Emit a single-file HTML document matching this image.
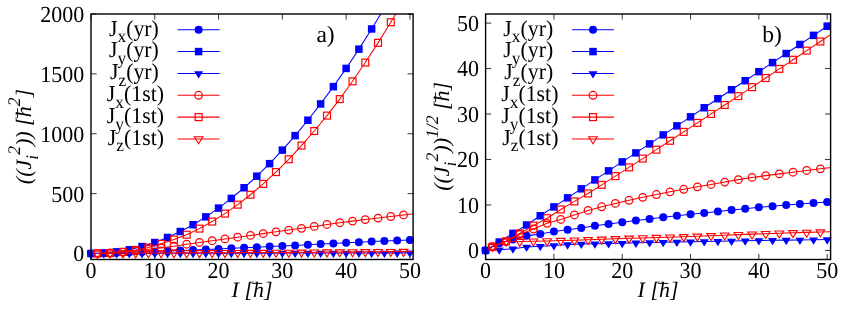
<!DOCTYPE html>
<html><head><meta charset="utf-8"><title>plot</title>
<style>html,body{margin:0;padding:0;background:#fff}svg{display:block;will-change:transform}text{font-family:"Liberation Serif",serif;fill:#000;text-rendering:geometricPrecision}</style>
</head><body>
<svg width="845" height="310" viewBox="0 0 845 310">
<rect width="845" height="310" fill="#fff"/>
<clipPath id="ca"><rect x="91" y="14" width="322.1" height="245.5"/></clipPath>
<path d="M91.00,259.5v-5.6M91.00,14v5.6" stroke="#000" stroke-width="0.8"/>
<text transform="translate(91.00,277.80) scale(0.9569,1)" text-anchor="middle" font-size="22.99">0</text>
<path d="M154.78,259.5v-5.6M154.78,14v5.6" stroke="#000" stroke-width="0.8"/>
<text transform="translate(154.78,277.80) scale(0.9569,1)" text-anchor="middle" font-size="22.99">10</text>
<path d="M218.56,259.5v-5.6M218.56,14v5.6" stroke="#000" stroke-width="0.8"/>
<text transform="translate(218.56,277.80) scale(0.9569,1)" text-anchor="middle" font-size="22.99">20</text>
<path d="M282.35,259.5v-5.6M282.35,14v5.6" stroke="#000" stroke-width="0.8"/>
<text transform="translate(282.35,277.80) scale(0.9569,1)" text-anchor="middle" font-size="22.99">30</text>
<path d="M346.13,259.5v-5.6M346.13,14v5.6" stroke="#000" stroke-width="0.8"/>
<text transform="translate(346.13,277.80) scale(0.9569,1)" text-anchor="middle" font-size="22.99">40</text>
<path d="M409.91,259.5v-5.6M409.91,14v5.6" stroke="#000" stroke-width="0.8"/>
<text transform="translate(409.91,277.80) scale(0.9569,1)" text-anchor="middle" font-size="22.99">50</text>
<path d="M91,253.51h5.6M413.1,253.51h-5.6" stroke="#000" stroke-width="0.8"/>
<text transform="translate(84.30,261.41) scale(0.9569,1)" text-anchor="end" font-size="22.99">0</text>
<path d="M91,193.63h5.6M413.1,193.63h-5.6" stroke="#000" stroke-width="0.8"/>
<text transform="translate(84.30,201.53) scale(0.9569,1)" text-anchor="end" font-size="22.99">500</text>
<path d="M91,133.76h5.6M413.1,133.76h-5.6" stroke="#000" stroke-width="0.8"/>
<text transform="translate(84.30,141.66) scale(0.9569,1)" text-anchor="end" font-size="22.99">1000</text>
<path d="M91,73.88h5.6M413.1,73.88h-5.6" stroke="#000" stroke-width="0.8"/>
<text transform="translate(84.30,81.78) scale(0.9569,1)" text-anchor="end" font-size="22.99">1500</text>
<path d="M91,14.00h5.6M413.1,14.00h-5.6" stroke="#000" stroke-width="0.8"/>
<text transform="translate(84.30,21.90) scale(0.9569,1)" text-anchor="end" font-size="22.99">2000</text>
<path d="M91.00,253.51L103.76,253.21L116.51,252.81L129.27,252.29L142.03,251.93L154.78,251.45L167.54,251.03L180.30,250.58L193.05,249.99L205.81,249.50L218.56,248.94L231.32,248.33L244.08,247.78L256.83,247.15L269.59,246.54L282.35,245.96L295.10,245.40L307.86,244.77L320.62,244.10L333.37,243.42L346.13,242.77L358.89,242.17L371.64,241.56L384.40,240.98L397.15,240.46L409.91,239.93L422.67,239.39" fill="none" stroke="#0000ff" stroke-width="1.05" clip-path="url(#ca)"/>
<circle cx="91.00" cy="253.51" r="4.0" fill="#0000ff"/>
<circle cx="103.76" cy="253.21" r="4.0" fill="#0000ff"/>
<circle cx="116.51" cy="252.81" r="4.0" fill="#0000ff"/>
<circle cx="129.27" cy="252.29" r="4.0" fill="#0000ff"/>
<circle cx="142.03" cy="251.93" r="4.0" fill="#0000ff"/>
<circle cx="154.78" cy="251.45" r="4.0" fill="#0000ff"/>
<circle cx="167.54" cy="251.03" r="4.0" fill="#0000ff"/>
<circle cx="180.30" cy="250.58" r="4.0" fill="#0000ff"/>
<circle cx="193.05" cy="249.99" r="4.0" fill="#0000ff"/>
<circle cx="205.81" cy="249.50" r="4.0" fill="#0000ff"/>
<circle cx="218.56" cy="248.94" r="4.0" fill="#0000ff"/>
<circle cx="231.32" cy="248.33" r="4.0" fill="#0000ff"/>
<circle cx="244.08" cy="247.78" r="4.0" fill="#0000ff"/>
<circle cx="256.83" cy="247.15" r="4.0" fill="#0000ff"/>
<circle cx="269.59" cy="246.54" r="4.0" fill="#0000ff"/>
<circle cx="282.35" cy="245.96" r="4.0" fill="#0000ff"/>
<circle cx="295.10" cy="245.40" r="4.0" fill="#0000ff"/>
<circle cx="307.86" cy="244.77" r="4.0" fill="#0000ff"/>
<circle cx="320.62" cy="244.10" r="4.0" fill="#0000ff"/>
<circle cx="333.37" cy="243.42" r="4.0" fill="#0000ff"/>
<circle cx="346.13" cy="242.77" r="4.0" fill="#0000ff"/>
<circle cx="358.89" cy="242.17" r="4.0" fill="#0000ff"/>
<circle cx="371.64" cy="241.56" r="4.0" fill="#0000ff"/>
<circle cx="384.40" cy="240.98" r="4.0" fill="#0000ff"/>
<circle cx="397.15" cy="240.46" r="4.0" fill="#0000ff"/>
<circle cx="409.91" cy="239.93" r="4.0" fill="#0000ff"/>
<path d="M91.00,253.51L103.76,253.10L116.51,251.83L129.27,249.78L142.03,246.57L154.78,242.55L167.54,237.51L180.30,231.53L193.05,224.72L205.81,216.85L218.56,208.09L231.32,198.43L244.08,187.75L256.83,176.19L269.59,163.65L282.35,150.12L295.10,135.62L307.86,120.23L320.62,103.93L333.37,86.67L346.13,68.42L358.89,49.16L371.64,28.96L384.40,7.77L397.15,-14.45L409.91,-37.60L422.67,-61.71" fill="none" stroke="#0000ff" stroke-width="1.05" clip-path="url(#ca)"/>
<rect x="87.25" y="249.76" width="7.5" height="7.5" fill="#0000ff"/>
<rect x="100.01" y="249.35" width="7.5" height="7.5" fill="#0000ff"/>
<rect x="112.76" y="248.08" width="7.5" height="7.5" fill="#0000ff"/>
<rect x="125.52" y="246.03" width="7.5" height="7.5" fill="#0000ff"/>
<rect x="138.28" y="242.82" width="7.5" height="7.5" fill="#0000ff"/>
<rect x="151.03" y="238.80" width="7.5" height="7.5" fill="#0000ff"/>
<rect x="163.79" y="233.76" width="7.5" height="7.5" fill="#0000ff"/>
<rect x="176.55" y="227.78" width="7.5" height="7.5" fill="#0000ff"/>
<rect x="189.30" y="220.97" width="7.5" height="7.5" fill="#0000ff"/>
<rect x="202.06" y="213.10" width="7.5" height="7.5" fill="#0000ff"/>
<rect x="214.81" y="204.34" width="7.5" height="7.5" fill="#0000ff"/>
<rect x="227.57" y="194.68" width="7.5" height="7.5" fill="#0000ff"/>
<rect x="240.33" y="184.00" width="7.5" height="7.5" fill="#0000ff"/>
<rect x="253.08" y="172.44" width="7.5" height="7.5" fill="#0000ff"/>
<rect x="265.84" y="159.90" width="7.5" height="7.5" fill="#0000ff"/>
<rect x="278.60" y="146.37" width="7.5" height="7.5" fill="#0000ff"/>
<rect x="291.35" y="131.87" width="7.5" height="7.5" fill="#0000ff"/>
<rect x="304.11" y="116.48" width="7.5" height="7.5" fill="#0000ff"/>
<rect x="316.87" y="100.18" width="7.5" height="7.5" fill="#0000ff"/>
<rect x="329.62" y="82.92" width="7.5" height="7.5" fill="#0000ff"/>
<rect x="342.38" y="64.67" width="7.5" height="7.5" fill="#0000ff"/>
<rect x="355.14" y="45.41" width="7.5" height="7.5" fill="#0000ff"/>
<rect x="367.89" y="25.21" width="7.5" height="7.5" fill="#0000ff"/>
<path d="M91.00,253.51L103.76,253.51L116.51,253.50L129.27,253.44L142.03,253.41L154.78,253.37L167.54,253.32L180.30,253.28L193.05,253.25L205.81,253.23L218.56,253.21L231.32,253.18L244.08,253.16L256.83,253.13L269.59,253.11L282.35,253.08L295.10,253.05L307.86,253.02L320.62,253.00L333.37,252.97L346.13,252.94L358.89,252.92L371.64,252.90L384.40,252.88L397.15,252.86L409.91,252.83L422.67,252.81" fill="none" stroke="#0000ff" stroke-width="1.05" clip-path="url(#ca)"/>
<polygon points="86.50,251.26 95.50,251.26 91.00,258.55" fill="#0000ff"/>
<polygon points="99.26,251.26 108.26,251.26 103.76,258.55" fill="#0000ff"/>
<polygon points="112.01,251.25 121.01,251.25 116.51,258.54" fill="#0000ff"/>
<polygon points="124.77,251.19 133.77,251.19 129.27,258.48" fill="#0000ff"/>
<polygon points="137.53,251.16 146.53,251.16 142.03,258.45" fill="#0000ff"/>
<polygon points="150.28,251.12 159.28,251.12 154.78,258.41" fill="#0000ff"/>
<polygon points="163.04,251.07 172.04,251.07 167.54,258.36" fill="#0000ff"/>
<polygon points="175.80,251.03 184.80,251.03 180.30,258.32" fill="#0000ff"/>
<polygon points="188.55,251.00 197.55,251.00 193.05,258.29" fill="#0000ff"/>
<polygon points="201.31,250.98 210.31,250.98 205.81,258.27" fill="#0000ff"/>
<polygon points="214.06,250.96 223.06,250.96 218.56,258.25" fill="#0000ff"/>
<polygon points="226.82,250.93 235.82,250.93 231.32,258.22" fill="#0000ff"/>
<polygon points="239.58,250.91 248.58,250.91 244.08,258.20" fill="#0000ff"/>
<polygon points="252.33,250.88 261.33,250.88 256.83,258.17" fill="#0000ff"/>
<polygon points="265.09,250.86 274.09,250.86 269.59,258.15" fill="#0000ff"/>
<polygon points="277.85,250.83 286.85,250.83 282.35,258.12" fill="#0000ff"/>
<polygon points="290.60,250.80 299.60,250.80 295.10,258.09" fill="#0000ff"/>
<polygon points="303.36,250.77 312.36,250.77 307.86,258.06" fill="#0000ff"/>
<polygon points="316.12,250.75 325.12,250.75 320.62,258.04" fill="#0000ff"/>
<polygon points="328.87,250.72 337.87,250.72 333.37,258.01" fill="#0000ff"/>
<polygon points="341.63,250.69 350.63,250.69 346.13,257.98" fill="#0000ff"/>
<polygon points="354.39,250.67 363.39,250.67 358.89,257.96" fill="#0000ff"/>
<polygon points="367.14,250.65 376.14,250.65 371.64,257.94" fill="#0000ff"/>
<polygon points="379.90,250.63 388.90,250.63 384.40,257.92" fill="#0000ff"/>
<polygon points="392.65,250.61 401.65,250.61 397.15,257.90" fill="#0000ff"/>
<polygon points="405.41,250.58 414.41,250.58 409.91,257.87" fill="#0000ff"/>
<path d="M97.38,253.43L110.13,253.03L122.89,252.05L135.65,250.87L148.40,249.27L161.16,247.97L173.92,246.23L186.67,244.24L199.43,242.48L212.19,240.73L224.94,238.94L237.70,237.17L250.46,235.42L263.21,233.64L275.97,231.85L288.72,230.10L301.48,228.33L314.24,226.44L326.99,224.49L339.75,222.66L352.51,221.11L365.26,219.59L378.02,218.08L390.78,216.50L403.53,214.93L416.29,213.41" fill="none" stroke="#ff0000" stroke-width="1.05" clip-path="url(#ca)"/>
<circle cx="97.38" cy="253.43" r="3.8" fill="none" stroke="#ff0000" stroke-width="1.25"/>
<circle cx="110.13" cy="253.03" r="3.8" fill="none" stroke="#ff0000" stroke-width="1.25"/>
<circle cx="122.89" cy="252.05" r="3.8" fill="none" stroke="#ff0000" stroke-width="1.25"/>
<circle cx="135.65" cy="250.87" r="3.8" fill="none" stroke="#ff0000" stroke-width="1.25"/>
<circle cx="148.40" cy="249.27" r="3.8" fill="none" stroke="#ff0000" stroke-width="1.25"/>
<circle cx="161.16" cy="247.97" r="3.8" fill="none" stroke="#ff0000" stroke-width="1.25"/>
<circle cx="173.92" cy="246.23" r="3.8" fill="none" stroke="#ff0000" stroke-width="1.25"/>
<circle cx="186.67" cy="244.24" r="3.8" fill="none" stroke="#ff0000" stroke-width="1.25"/>
<circle cx="199.43" cy="242.48" r="3.8" fill="none" stroke="#ff0000" stroke-width="1.25"/>
<circle cx="212.19" cy="240.73" r="3.8" fill="none" stroke="#ff0000" stroke-width="1.25"/>
<circle cx="224.94" cy="238.94" r="3.8" fill="none" stroke="#ff0000" stroke-width="1.25"/>
<circle cx="237.70" cy="237.17" r="3.8" fill="none" stroke="#ff0000" stroke-width="1.25"/>
<circle cx="250.46" cy="235.42" r="3.8" fill="none" stroke="#ff0000" stroke-width="1.25"/>
<circle cx="263.21" cy="233.64" r="3.8" fill="none" stroke="#ff0000" stroke-width="1.25"/>
<circle cx="275.97" cy="231.85" r="3.8" fill="none" stroke="#ff0000" stroke-width="1.25"/>
<circle cx="288.72" cy="230.10" r="3.8" fill="none" stroke="#ff0000" stroke-width="1.25"/>
<circle cx="301.48" cy="228.33" r="3.8" fill="none" stroke="#ff0000" stroke-width="1.25"/>
<circle cx="314.24" cy="226.44" r="3.8" fill="none" stroke="#ff0000" stroke-width="1.25"/>
<circle cx="326.99" cy="224.49" r="3.8" fill="none" stroke="#ff0000" stroke-width="1.25"/>
<circle cx="339.75" cy="222.66" r="3.8" fill="none" stroke="#ff0000" stroke-width="1.25"/>
<circle cx="352.51" cy="221.11" r="3.8" fill="none" stroke="#ff0000" stroke-width="1.25"/>
<circle cx="365.26" cy="219.59" r="3.8" fill="none" stroke="#ff0000" stroke-width="1.25"/>
<circle cx="378.02" cy="218.08" r="3.8" fill="none" stroke="#ff0000" stroke-width="1.25"/>
<circle cx="390.78" cy="216.50" r="3.8" fill="none" stroke="#ff0000" stroke-width="1.25"/>
<circle cx="403.53" cy="214.93" r="3.8" fill="none" stroke="#ff0000" stroke-width="1.25"/>
<path d="M97.38,253.43L110.13,253.03L122.89,251.84L135.65,249.94L148.40,247.50L161.16,243.80L173.92,239.61L186.67,234.70L199.43,228.62L212.19,221.57L224.94,213.60L237.70,204.65L250.46,194.72L263.21,183.86L275.97,172.07L288.72,159.28L301.48,145.57L314.24,131.03L326.99,115.60L339.75,99.08L352.51,81.32L365.26,62.57L378.02,42.84L390.78,22.24L403.53,0.66L416.29,-21.93" fill="none" stroke="#ff0000" stroke-width="1.05" clip-path="url(#ca)"/>
<rect x="93.93" y="249.98" width="6.9" height="6.9" fill="none" stroke="#ff0000" stroke-width="1.2"/>
<rect x="106.68" y="249.58" width="6.9" height="6.9" fill="none" stroke="#ff0000" stroke-width="1.2"/>
<rect x="119.44" y="248.39" width="6.9" height="6.9" fill="none" stroke="#ff0000" stroke-width="1.2"/>
<rect x="132.20" y="246.49" width="6.9" height="6.9" fill="none" stroke="#ff0000" stroke-width="1.2"/>
<rect x="144.95" y="244.05" width="6.9" height="6.9" fill="none" stroke="#ff0000" stroke-width="1.2"/>
<rect x="157.71" y="240.35" width="6.9" height="6.9" fill="none" stroke="#ff0000" stroke-width="1.2"/>
<rect x="170.47" y="236.16" width="6.9" height="6.9" fill="none" stroke="#ff0000" stroke-width="1.2"/>
<rect x="183.22" y="231.25" width="6.9" height="6.9" fill="none" stroke="#ff0000" stroke-width="1.2"/>
<rect x="195.98" y="225.17" width="6.9" height="6.9" fill="none" stroke="#ff0000" stroke-width="1.2"/>
<rect x="208.74" y="218.12" width="6.9" height="6.9" fill="none" stroke="#ff0000" stroke-width="1.2"/>
<rect x="221.49" y="210.15" width="6.9" height="6.9" fill="none" stroke="#ff0000" stroke-width="1.2"/>
<rect x="234.25" y="201.20" width="6.9" height="6.9" fill="none" stroke="#ff0000" stroke-width="1.2"/>
<rect x="247.01" y="191.27" width="6.9" height="6.9" fill="none" stroke="#ff0000" stroke-width="1.2"/>
<rect x="259.76" y="180.41" width="6.9" height="6.9" fill="none" stroke="#ff0000" stroke-width="1.2"/>
<rect x="272.52" y="168.62" width="6.9" height="6.9" fill="none" stroke="#ff0000" stroke-width="1.2"/>
<rect x="285.27" y="155.83" width="6.9" height="6.9" fill="none" stroke="#ff0000" stroke-width="1.2"/>
<rect x="298.03" y="142.12" width="6.9" height="6.9" fill="none" stroke="#ff0000" stroke-width="1.2"/>
<rect x="310.79" y="127.58" width="6.9" height="6.9" fill="none" stroke="#ff0000" stroke-width="1.2"/>
<rect x="323.54" y="112.15" width="6.9" height="6.9" fill="none" stroke="#ff0000" stroke-width="1.2"/>
<rect x="336.30" y="95.63" width="6.9" height="6.9" fill="none" stroke="#ff0000" stroke-width="1.2"/>
<rect x="349.06" y="77.87" width="6.9" height="6.9" fill="none" stroke="#ff0000" stroke-width="1.2"/>
<rect x="361.81" y="59.12" width="6.9" height="6.9" fill="none" stroke="#ff0000" stroke-width="1.2"/>
<rect x="374.57" y="39.39" width="6.9" height="6.9" fill="none" stroke="#ff0000" stroke-width="1.2"/>
<rect x="387.33" y="18.79" width="6.9" height="6.9" fill="none" stroke="#ff0000" stroke-width="1.2"/>
<path d="M97.38,253.43L110.13,253.03L122.89,253.06L135.65,253.02L148.40,252.99L161.16,252.95L173.92,252.91L186.67,252.85L199.43,252.79L212.19,252.73L224.94,252.66L237.70,252.61L250.46,252.55L263.21,252.50L275.97,252.43L288.72,252.36L301.48,252.27L314.24,252.17L326.99,252.07L339.75,251.98L352.51,251.89L365.26,251.80L378.02,251.72L390.78,251.63L403.53,251.55L416.29,251.47" fill="none" stroke="#ff0000" stroke-width="1.05" clip-path="url(#ca)"/>
<polygon points="93.08,251.28 101.68,251.28 97.38,258.25" fill="none" stroke="#ff0000" stroke-width="1.1"/>
<polygon points="105.83,250.88 114.43,250.88 110.13,257.85" fill="none" stroke="#ff0000" stroke-width="1.1"/>
<polygon points="118.59,250.91 127.19,250.91 122.89,257.87" fill="none" stroke="#ff0000" stroke-width="1.1"/>
<polygon points="131.35,250.87 139.95,250.87 135.65,257.83" fill="none" stroke="#ff0000" stroke-width="1.1"/>
<polygon points="144.10,250.84 152.70,250.84 148.40,257.81" fill="none" stroke="#ff0000" stroke-width="1.1"/>
<polygon points="156.86,250.80 165.46,250.80 161.16,257.77" fill="none" stroke="#ff0000" stroke-width="1.1"/>
<polygon points="169.62,250.76 178.22,250.76 173.92,257.72" fill="none" stroke="#ff0000" stroke-width="1.1"/>
<polygon points="182.37,250.70 190.97,250.70 186.67,257.67" fill="none" stroke="#ff0000" stroke-width="1.1"/>
<polygon points="195.13,250.64 203.73,250.64 199.43,257.61" fill="none" stroke="#ff0000" stroke-width="1.1"/>
<polygon points="207.89,250.58 216.49,250.58 212.19,257.55" fill="none" stroke="#ff0000" stroke-width="1.1"/>
<polygon points="220.64,250.51 229.24,250.51 224.94,257.48" fill="none" stroke="#ff0000" stroke-width="1.1"/>
<polygon points="233.40,250.46 242.00,250.46 237.70,257.42" fill="none" stroke="#ff0000" stroke-width="1.1"/>
<polygon points="246.16,250.40 254.76,250.40 250.46,257.37" fill="none" stroke="#ff0000" stroke-width="1.1"/>
<polygon points="258.91,250.35 267.51,250.35 263.21,257.31" fill="none" stroke="#ff0000" stroke-width="1.1"/>
<polygon points="271.67,250.28 280.27,250.28 275.97,257.25" fill="none" stroke="#ff0000" stroke-width="1.1"/>
<polygon points="284.42,250.21 293.02,250.21 288.72,257.17" fill="none" stroke="#ff0000" stroke-width="1.1"/>
<polygon points="297.18,250.12 305.78,250.12 301.48,257.08" fill="none" stroke="#ff0000" stroke-width="1.1"/>
<polygon points="309.94,250.02 318.54,250.02 314.24,256.99" fill="none" stroke="#ff0000" stroke-width="1.1"/>
<polygon points="322.69,249.92 331.29,249.92 326.99,256.89" fill="none" stroke="#ff0000" stroke-width="1.1"/>
<polygon points="335.45,249.83 344.05,249.83 339.75,256.79" fill="none" stroke="#ff0000" stroke-width="1.1"/>
<polygon points="348.21,249.74 356.81,249.74 352.51,256.70" fill="none" stroke="#ff0000" stroke-width="1.1"/>
<polygon points="360.96,249.65 369.56,249.65 365.26,256.62" fill="none" stroke="#ff0000" stroke-width="1.1"/>
<polygon points="373.72,249.57 382.32,249.57 378.02,256.53" fill="none" stroke="#ff0000" stroke-width="1.1"/>
<polygon points="386.48,249.48 395.08,249.48 390.78,256.45" fill="none" stroke="#ff0000" stroke-width="1.1"/>
<polygon points="399.23,249.40 407.83,249.40 403.53,256.36" fill="none" stroke="#ff0000" stroke-width="1.1"/>
<path d="M177.6,29.75H219.6" stroke="#0000ff" stroke-width="1.05"/>
<circle cx="198.60" cy="29.75" r="4.0" fill="#0000ff"/>
<text transform="translate(158.80,35.55) scale(0.9569,1)" text-anchor="end" font-size="22.78">J<tspan font-size="18.18" dy="6.6">x</tspan><tspan dy="-6.6">(yr)</tspan></text>
<path d="M177.6,51.59H219.6" stroke="#0000ff" stroke-width="1.05"/>
<rect x="194.85" y="47.84" width="7.5" height="7.5" fill="#0000ff"/>
<text transform="translate(158.80,57.39) scale(0.9569,1)" text-anchor="end" font-size="22.78">J<tspan font-size="18.18" dy="6.6">y</tspan><tspan dy="-6.6">(yr)</tspan></text>
<path d="M177.6,73.43H219.6" stroke="#0000ff" stroke-width="1.05"/>
<polygon points="194.10,71.18 203.10,71.18 198.60,78.47" fill="#0000ff"/>
<text transform="translate(158.80,79.23) scale(0.9569,1)" text-anchor="end" font-size="22.78">J<tspan font-size="18.18" dy="6.6">z</tspan><tspan dy="-6.6">(yr)</tspan></text>
<path d="M177.6,95.27H219.6" stroke="#ff0000" stroke-width="1.05"/>
<circle cx="198.60" cy="95.27" r="3.8" fill="none" stroke="#ff0000" stroke-width="1.25"/>
<text transform="translate(164.00,101.07) scale(0.9569,1)" text-anchor="end" font-size="22.78">J<tspan font-size="18.18" dy="6.6">x</tspan><tspan dy="-6.6">(1st)</tspan></text>
<path d="M177.6,117.11H219.6" stroke="#ff0000" stroke-width="1.05"/>
<rect x="195.15" y="113.66" width="6.9" height="6.9" fill="none" stroke="#ff0000" stroke-width="1.2"/>
<text transform="translate(164.00,122.91) scale(0.9569,1)" text-anchor="end" font-size="22.78">J<tspan font-size="18.18" dy="6.6">y</tspan><tspan dy="-6.6">(1st)</tspan></text>
<path d="M177.6,138.95H219.6" stroke="#ff0000" stroke-width="1.05"/>
<polygon points="194.30,136.80 202.90,136.80 198.60,143.77" fill="none" stroke="#ff0000" stroke-width="1.1"/>
<text transform="translate(164.00,144.75) scale(0.9569,1)" text-anchor="end" font-size="22.78">J<tspan font-size="18.18" dy="6.6">z</tspan><tspan dy="-6.6">(1st)</tspan></text>
<rect x="91" y="14" width="322.1" height="245.5" fill="none" stroke="#000" stroke-width="1.4"/>
<text x="316.4" y="41.5" font-size="23.6">a)</text>
<text x="252.05" y="297.1" text-anchor="middle" font-size="22" font-style="italic">I [h]</text>
<rect x="252.30" y="282.95" width="10" height="0.9" fill="#000"/>
<clipPath id="cb"><rect x="485.6" y="14" width="345.0" height="245.5"/></clipPath>
<path d="M485.60,259.5v-5.6M485.60,14v5.6" stroke="#000" stroke-width="0.8"/>
<text transform="translate(485.60,277.80) scale(0.9569,1)" text-anchor="middle" font-size="22.99">0</text>
<path d="M553.92,259.5v-5.6M553.92,14v5.6" stroke="#000" stroke-width="0.8"/>
<text transform="translate(553.92,277.80) scale(0.9569,1)" text-anchor="middle" font-size="22.99">10</text>
<path d="M622.23,259.5v-5.6M622.23,14v5.6" stroke="#000" stroke-width="0.8"/>
<text transform="translate(622.23,277.80) scale(0.9569,1)" text-anchor="middle" font-size="22.99">20</text>
<path d="M690.55,259.5v-5.6M690.55,14v5.6" stroke="#000" stroke-width="0.8"/>
<text transform="translate(690.55,277.80) scale(0.9569,1)" text-anchor="middle" font-size="22.99">30</text>
<path d="M758.87,259.5v-5.6M758.87,14v5.6" stroke="#000" stroke-width="0.8"/>
<text transform="translate(758.87,277.80) scale(0.9569,1)" text-anchor="middle" font-size="22.99">40</text>
<path d="M827.18,259.5v-5.6M827.18,14v5.6" stroke="#000" stroke-width="0.8"/>
<text transform="translate(827.18,277.80) scale(0.9569,1)" text-anchor="middle" font-size="22.99">50</text>
<path d="M485.6,250.41h5.6M830.6,250.41h-5.6" stroke="#000" stroke-width="0.8"/>
<text transform="translate(478.90,258.31) scale(0.9569,1)" text-anchor="end" font-size="22.99">0</text>
<path d="M485.6,204.94h5.6M830.6,204.94h-5.6" stroke="#000" stroke-width="0.8"/>
<text transform="translate(478.90,212.84) scale(0.9569,1)" text-anchor="end" font-size="22.99">10</text>
<path d="M485.6,159.48h5.6M830.6,159.48h-5.6" stroke="#000" stroke-width="0.8"/>
<text transform="translate(478.90,167.38) scale(0.9569,1)" text-anchor="end" font-size="22.99">20</text>
<path d="M485.6,114.02h5.6M830.6,114.02h-5.6" stroke="#000" stroke-width="0.8"/>
<text transform="translate(478.90,121.92) scale(0.9569,1)" text-anchor="end" font-size="22.99">30</text>
<path d="M485.6,68.56h5.6M830.6,68.56h-5.6" stroke="#000" stroke-width="0.8"/>
<text transform="translate(478.90,76.46) scale(0.9569,1)" text-anchor="end" font-size="22.99">40</text>
<path d="M485.6,23.09h5.6M830.6,23.09h-5.6" stroke="#000" stroke-width="0.8"/>
<text transform="translate(478.90,30.99) scale(0.9569,1)" text-anchor="end" font-size="22.99">50</text>
<path d="M485.60,250.41L499.26,243.13L512.93,239.41L526.59,235.86L540.25,233.90L553.92,231.54L567.58,229.72L581.24,227.90L594.91,225.77L608.57,224.08L622.23,222.31L635.90,220.49L649.56,218.95L663.22,217.26L676.89,215.72L690.55,214.31L704.21,212.99L717.88,211.57L731.54,210.10L745.20,208.67L758.87,207.35L772.53,206.17L786.19,204.99L799.86,203.90L813.52,202.94L827.18,201.99L840.85,201.03" fill="none" stroke="#0000ff" stroke-width="1.05" clip-path="url(#cb)"/>
<circle cx="485.60" cy="250.41" r="4.0" fill="#0000ff"/>
<circle cx="499.26" cy="243.13" r="4.0" fill="#0000ff"/>
<circle cx="512.93" cy="239.41" r="4.0" fill="#0000ff"/>
<circle cx="526.59" cy="235.86" r="4.0" fill="#0000ff"/>
<circle cx="540.25" cy="233.90" r="4.0" fill="#0000ff"/>
<circle cx="553.92" cy="231.54" r="4.0" fill="#0000ff"/>
<circle cx="567.58" cy="229.72" r="4.0" fill="#0000ff"/>
<circle cx="581.24" cy="227.90" r="4.0" fill="#0000ff"/>
<circle cx="594.91" cy="225.77" r="4.0" fill="#0000ff"/>
<circle cx="608.57" cy="224.08" r="4.0" fill="#0000ff"/>
<circle cx="622.23" cy="222.31" r="4.0" fill="#0000ff"/>
<circle cx="635.90" cy="220.49" r="4.0" fill="#0000ff"/>
<circle cx="649.56" cy="218.95" r="4.0" fill="#0000ff"/>
<circle cx="663.22" cy="217.26" r="4.0" fill="#0000ff"/>
<circle cx="676.89" cy="215.72" r="4.0" fill="#0000ff"/>
<circle cx="690.55" cy="214.31" r="4.0" fill="#0000ff"/>
<circle cx="704.21" cy="212.99" r="4.0" fill="#0000ff"/>
<circle cx="717.88" cy="211.57" r="4.0" fill="#0000ff"/>
<circle cx="731.54" cy="210.10" r="4.0" fill="#0000ff"/>
<circle cx="745.20" cy="208.67" r="4.0" fill="#0000ff"/>
<circle cx="758.87" cy="207.35" r="4.0" fill="#0000ff"/>
<circle cx="772.53" cy="206.17" r="4.0" fill="#0000ff"/>
<circle cx="786.19" cy="204.99" r="4.0" fill="#0000ff"/>
<circle cx="799.86" cy="203.90" r="4.0" fill="#0000ff"/>
<circle cx="813.52" cy="202.94" r="4.0" fill="#0000ff"/>
<circle cx="827.18" cy="201.99" r="4.0" fill="#0000ff"/>
<path d="M485.60,250.41L499.26,242.00L512.93,233.38L526.59,225.01L540.25,215.80L553.92,206.90L567.58,197.85L581.24,188.82L594.91,179.91L608.57,170.87L622.23,161.87L635.90,152.91L649.56,143.87L663.22,134.89L676.89,125.87L690.55,116.82L704.21,107.76L717.88,98.74L731.54,89.73L745.20,80.71L758.87,71.68L772.53,62.61L786.19,53.54L799.86,44.46L813.52,35.36L827.18,26.26L840.85,17.16" fill="none" stroke="#0000ff" stroke-width="1.05" clip-path="url(#cb)"/>
<rect x="481.85" y="246.66" width="7.5" height="7.5" fill="#0000ff"/>
<rect x="495.51" y="238.25" width="7.5" height="7.5" fill="#0000ff"/>
<rect x="509.18" y="229.63" width="7.5" height="7.5" fill="#0000ff"/>
<rect x="522.84" y="221.26" width="7.5" height="7.5" fill="#0000ff"/>
<rect x="536.50" y="212.05" width="7.5" height="7.5" fill="#0000ff"/>
<rect x="550.17" y="203.15" width="7.5" height="7.5" fill="#0000ff"/>
<rect x="563.83" y="194.10" width="7.5" height="7.5" fill="#0000ff"/>
<rect x="577.49" y="185.07" width="7.5" height="7.5" fill="#0000ff"/>
<rect x="591.16" y="176.16" width="7.5" height="7.5" fill="#0000ff"/>
<rect x="604.82" y="167.12" width="7.5" height="7.5" fill="#0000ff"/>
<rect x="618.48" y="158.12" width="7.5" height="7.5" fill="#0000ff"/>
<rect x="632.15" y="149.16" width="7.5" height="7.5" fill="#0000ff"/>
<rect x="645.81" y="140.12" width="7.5" height="7.5" fill="#0000ff"/>
<rect x="659.47" y="131.14" width="7.5" height="7.5" fill="#0000ff"/>
<rect x="673.14" y="122.12" width="7.5" height="7.5" fill="#0000ff"/>
<rect x="686.80" y="113.07" width="7.5" height="7.5" fill="#0000ff"/>
<rect x="700.46" y="104.01" width="7.5" height="7.5" fill="#0000ff"/>
<rect x="714.13" y="94.99" width="7.5" height="7.5" fill="#0000ff"/>
<rect x="727.79" y="85.98" width="7.5" height="7.5" fill="#0000ff"/>
<rect x="741.45" y="76.96" width="7.5" height="7.5" fill="#0000ff"/>
<rect x="755.12" y="67.93" width="7.5" height="7.5" fill="#0000ff"/>
<rect x="768.78" y="58.86" width="7.5" height="7.5" fill="#0000ff"/>
<rect x="782.44" y="49.79" width="7.5" height="7.5" fill="#0000ff"/>
<rect x="796.11" y="40.71" width="7.5" height="7.5" fill="#0000ff"/>
<rect x="809.77" y="31.61" width="7.5" height="7.5" fill="#0000ff"/>
<rect x="823.43" y="22.51" width="7.5" height="7.5" fill="#0000ff"/>
<path d="M485.60,250.41L499.26,249.73L512.93,248.82L526.59,247.00L540.25,246.18L553.92,245.41L567.58,244.59L581.24,244.04L594.91,243.69L608.57,243.41L622.23,243.13L635.90,242.85L649.56,242.57L663.22,242.30L676.89,242.03L690.55,241.77L704.21,241.50L717.88,241.23L731.54,240.97L745.20,240.72L758.87,240.50L772.53,240.30L786.19,240.11L799.86,239.94L813.52,239.76L827.18,239.59L840.85,239.41" fill="none" stroke="#0000ff" stroke-width="1.05" clip-path="url(#cb)"/>
<polygon points="481.10,248.16 490.10,248.16 485.60,255.45" fill="#0000ff"/>
<polygon points="494.76,247.48 503.76,247.48 499.26,254.77" fill="#0000ff"/>
<polygon points="508.43,246.57 517.43,246.57 512.93,253.86" fill="#0000ff"/>
<polygon points="522.09,244.75 531.09,244.75 526.59,252.04" fill="#0000ff"/>
<polygon points="535.75,243.93 544.75,243.93 540.25,251.22" fill="#0000ff"/>
<polygon points="549.42,243.16 558.42,243.16 553.92,250.45" fill="#0000ff"/>
<polygon points="563.08,242.34 572.08,242.34 567.58,249.63" fill="#0000ff"/>
<polygon points="576.74,241.79 585.74,241.79 581.24,249.08" fill="#0000ff"/>
<polygon points="590.41,241.44 599.41,241.44 594.91,248.73" fill="#0000ff"/>
<polygon points="604.07,241.16 613.07,241.16 608.57,248.45" fill="#0000ff"/>
<polygon points="617.73,240.88 626.73,240.88 622.23,248.17" fill="#0000ff"/>
<polygon points="631.40,240.60 640.40,240.60 635.90,247.89" fill="#0000ff"/>
<polygon points="645.06,240.32 654.06,240.32 649.56,247.61" fill="#0000ff"/>
<polygon points="658.72,240.05 667.72,240.05 663.22,247.34" fill="#0000ff"/>
<polygon points="672.39,239.78 681.39,239.78 676.89,247.07" fill="#0000ff"/>
<polygon points="686.05,239.52 695.05,239.52 690.55,246.81" fill="#0000ff"/>
<polygon points="699.71,239.25 708.71,239.25 704.21,246.54" fill="#0000ff"/>
<polygon points="713.38,238.98 722.38,238.98 717.88,246.27" fill="#0000ff"/>
<polygon points="727.04,238.72 736.04,238.72 731.54,246.01" fill="#0000ff"/>
<polygon points="740.70,238.47 749.70,238.47 745.20,245.76" fill="#0000ff"/>
<polygon points="754.37,238.25 763.37,238.25 758.87,245.54" fill="#0000ff"/>
<polygon points="768.03,238.05 777.03,238.05 772.53,245.34" fill="#0000ff"/>
<polygon points="781.69,237.86 790.69,237.86 786.19,245.15" fill="#0000ff"/>
<polygon points="795.36,237.69 804.36,237.69 799.86,244.98" fill="#0000ff"/>
<polygon points="809.02,237.51 818.02,237.51 813.52,244.80" fill="#0000ff"/>
<polygon points="822.68,237.34 831.68,237.34 827.18,244.63" fill="#0000ff"/>
<path d="M492.43,246.68L506.10,241.31L519.76,234.50L533.42,229.04L547.09,223.36L560.75,219.49L574.41,214.95L588.08,210.40L601.74,206.76L615.40,203.44L629.07,200.26L642.73,197.31L656.39,194.53L670.06,191.85L683.72,189.26L697.38,186.84L711.05,184.49L724.71,182.05L738.37,179.63L752.04,177.44L765.70,175.62L779.36,173.89L793.03,172.21L806.69,170.48L820.35,168.80L834.02,167.21" fill="none" stroke="#ff0000" stroke-width="1.05" clip-path="url(#cb)"/>
<circle cx="492.43" cy="246.68" r="3.8" fill="none" stroke="#ff0000" stroke-width="1.25"/>
<circle cx="506.10" cy="241.31" r="3.8" fill="none" stroke="#ff0000" stroke-width="1.25"/>
<circle cx="519.76" cy="234.50" r="3.8" fill="none" stroke="#ff0000" stroke-width="1.25"/>
<circle cx="533.42" cy="229.04" r="3.8" fill="none" stroke="#ff0000" stroke-width="1.25"/>
<circle cx="547.09" cy="223.36" r="3.8" fill="none" stroke="#ff0000" stroke-width="1.25"/>
<circle cx="560.75" cy="219.49" r="3.8" fill="none" stroke="#ff0000" stroke-width="1.25"/>
<circle cx="574.41" cy="214.95" r="3.8" fill="none" stroke="#ff0000" stroke-width="1.25"/>
<circle cx="588.08" cy="210.40" r="3.8" fill="none" stroke="#ff0000" stroke-width="1.25"/>
<circle cx="601.74" cy="206.76" r="3.8" fill="none" stroke="#ff0000" stroke-width="1.25"/>
<circle cx="615.40" cy="203.44" r="3.8" fill="none" stroke="#ff0000" stroke-width="1.25"/>
<circle cx="629.07" cy="200.26" r="3.8" fill="none" stroke="#ff0000" stroke-width="1.25"/>
<circle cx="642.73" cy="197.31" r="3.8" fill="none" stroke="#ff0000" stroke-width="1.25"/>
<circle cx="656.39" cy="194.53" r="3.8" fill="none" stroke="#ff0000" stroke-width="1.25"/>
<circle cx="670.06" cy="191.85" r="3.8" fill="none" stroke="#ff0000" stroke-width="1.25"/>
<circle cx="683.72" cy="189.26" r="3.8" fill="none" stroke="#ff0000" stroke-width="1.25"/>
<circle cx="697.38" cy="186.84" r="3.8" fill="none" stroke="#ff0000" stroke-width="1.25"/>
<circle cx="711.05" cy="184.49" r="3.8" fill="none" stroke="#ff0000" stroke-width="1.25"/>
<circle cx="724.71" cy="182.05" r="3.8" fill="none" stroke="#ff0000" stroke-width="1.25"/>
<circle cx="738.37" cy="179.63" r="3.8" fill="none" stroke="#ff0000" stroke-width="1.25"/>
<circle cx="752.04" cy="177.44" r="3.8" fill="none" stroke="#ff0000" stroke-width="1.25"/>
<circle cx="765.70" cy="175.62" r="3.8" fill="none" stroke="#ff0000" stroke-width="1.25"/>
<circle cx="779.36" cy="173.89" r="3.8" fill="none" stroke="#ff0000" stroke-width="1.25"/>
<circle cx="793.03" cy="172.21" r="3.8" fill="none" stroke="#ff0000" stroke-width="1.25"/>
<circle cx="806.69" cy="170.48" r="3.8" fill="none" stroke="#ff0000" stroke-width="1.25"/>
<circle cx="820.35" cy="168.80" r="3.8" fill="none" stroke="#ff0000" stroke-width="1.25"/>
<path d="M492.43,246.68L506.10,241.31L519.76,233.43L533.42,225.59L547.09,218.19L560.75,209.47L574.41,201.42L588.08,193.43L601.74,184.87L615.40,176.15L629.07,167.41L642.73,158.57L656.39,149.67L670.06,140.77L683.72,131.85L697.38,122.88L711.05,113.92L724.71,105.02L738.37,96.13L752.04,87.15L765.70,78.02L779.36,68.87L793.03,59.73L806.69,50.62L820.35,41.51L834.02,32.37" fill="none" stroke="#ff0000" stroke-width="1.05" clip-path="url(#cb)"/>
<rect x="488.98" y="243.23" width="6.9" height="6.9" fill="none" stroke="#ff0000" stroke-width="1.2"/>
<rect x="502.65" y="237.86" width="6.9" height="6.9" fill="none" stroke="#ff0000" stroke-width="1.2"/>
<rect x="516.31" y="229.98" width="6.9" height="6.9" fill="none" stroke="#ff0000" stroke-width="1.2"/>
<rect x="529.97" y="222.14" width="6.9" height="6.9" fill="none" stroke="#ff0000" stroke-width="1.2"/>
<rect x="543.64" y="214.74" width="6.9" height="6.9" fill="none" stroke="#ff0000" stroke-width="1.2"/>
<rect x="557.30" y="206.02" width="6.9" height="6.9" fill="none" stroke="#ff0000" stroke-width="1.2"/>
<rect x="570.96" y="197.97" width="6.9" height="6.9" fill="none" stroke="#ff0000" stroke-width="1.2"/>
<rect x="584.63" y="189.98" width="6.9" height="6.9" fill="none" stroke="#ff0000" stroke-width="1.2"/>
<rect x="598.29" y="181.42" width="6.9" height="6.9" fill="none" stroke="#ff0000" stroke-width="1.2"/>
<rect x="611.95" y="172.70" width="6.9" height="6.9" fill="none" stroke="#ff0000" stroke-width="1.2"/>
<rect x="625.62" y="163.96" width="6.9" height="6.9" fill="none" stroke="#ff0000" stroke-width="1.2"/>
<rect x="639.28" y="155.12" width="6.9" height="6.9" fill="none" stroke="#ff0000" stroke-width="1.2"/>
<rect x="652.94" y="146.22" width="6.9" height="6.9" fill="none" stroke="#ff0000" stroke-width="1.2"/>
<rect x="666.61" y="137.32" width="6.9" height="6.9" fill="none" stroke="#ff0000" stroke-width="1.2"/>
<rect x="680.27" y="128.40" width="6.9" height="6.9" fill="none" stroke="#ff0000" stroke-width="1.2"/>
<rect x="693.93" y="119.43" width="6.9" height="6.9" fill="none" stroke="#ff0000" stroke-width="1.2"/>
<rect x="707.60" y="110.47" width="6.9" height="6.9" fill="none" stroke="#ff0000" stroke-width="1.2"/>
<rect x="721.26" y="101.57" width="6.9" height="6.9" fill="none" stroke="#ff0000" stroke-width="1.2"/>
<rect x="734.92" y="92.68" width="6.9" height="6.9" fill="none" stroke="#ff0000" stroke-width="1.2"/>
<rect x="748.59" y="83.70" width="6.9" height="6.9" fill="none" stroke="#ff0000" stroke-width="1.2"/>
<rect x="762.25" y="74.57" width="6.9" height="6.9" fill="none" stroke="#ff0000" stroke-width="1.2"/>
<rect x="775.91" y="65.42" width="6.9" height="6.9" fill="none" stroke="#ff0000" stroke-width="1.2"/>
<rect x="789.58" y="56.28" width="6.9" height="6.9" fill="none" stroke="#ff0000" stroke-width="1.2"/>
<rect x="803.24" y="47.17" width="6.9" height="6.9" fill="none" stroke="#ff0000" stroke-width="1.2"/>
<rect x="816.90" y="38.06" width="6.9" height="6.9" fill="none" stroke="#ff0000" stroke-width="1.2"/>
<path d="M492.43,246.68L506.10,241.31L519.76,241.54L533.42,241.18L547.09,240.91L560.75,240.57L574.41,240.18L588.08,239.74L601.74,239.27L615.40,238.78L629.07,238.31L642.73,237.91L656.39,237.55L670.06,237.18L683.72,236.77L697.38,236.29L711.05,235.75L724.71,235.19L738.37,234.64L752.04,234.13L765.70,233.67L779.36,233.22L793.03,232.80L806.69,232.39L820.35,231.99L834.02,231.63" fill="none" stroke="#ff0000" stroke-width="1.05" clip-path="url(#cb)"/>
<polygon points="488.13,244.53 496.73,244.53 492.43,251.50" fill="none" stroke="#ff0000" stroke-width="1.1"/>
<polygon points="501.80,239.16 510.40,239.16 506.10,246.13" fill="none" stroke="#ff0000" stroke-width="1.1"/>
<polygon points="515.46,239.39 524.06,239.39 519.76,246.36" fill="none" stroke="#ff0000" stroke-width="1.1"/>
<polygon points="529.12,239.03 537.72,239.03 533.42,245.99" fill="none" stroke="#ff0000" stroke-width="1.1"/>
<polygon points="542.79,238.76 551.39,238.76 547.09,245.72" fill="none" stroke="#ff0000" stroke-width="1.1"/>
<polygon points="556.45,238.42 565.05,238.42 560.75,245.38" fill="none" stroke="#ff0000" stroke-width="1.1"/>
<polygon points="570.11,238.03 578.71,238.03 574.41,244.99" fill="none" stroke="#ff0000" stroke-width="1.1"/>
<polygon points="583.78,237.59 592.38,237.59 588.08,244.56" fill="none" stroke="#ff0000" stroke-width="1.1"/>
<polygon points="597.44,237.12 606.04,237.12 601.74,244.08" fill="none" stroke="#ff0000" stroke-width="1.1"/>
<polygon points="611.10,236.63 619.70,236.63 615.40,243.60" fill="none" stroke="#ff0000" stroke-width="1.1"/>
<polygon points="624.77,236.16 633.37,236.16 629.07,243.13" fill="none" stroke="#ff0000" stroke-width="1.1"/>
<polygon points="638.43,235.76 647.03,235.76 642.73,242.73" fill="none" stroke="#ff0000" stroke-width="1.1"/>
<polygon points="652.09,235.40 660.69,235.40 656.39,242.36" fill="none" stroke="#ff0000" stroke-width="1.1"/>
<polygon points="665.76,235.03 674.36,235.03 670.06,241.99" fill="none" stroke="#ff0000" stroke-width="1.1"/>
<polygon points="679.42,234.62 688.02,234.62 683.72,241.58" fill="none" stroke="#ff0000" stroke-width="1.1"/>
<polygon points="693.08,234.14 701.68,234.14 697.38,241.10" fill="none" stroke="#ff0000" stroke-width="1.1"/>
<polygon points="706.75,233.60 715.35,233.60 711.05,240.56" fill="none" stroke="#ff0000" stroke-width="1.1"/>
<polygon points="720.41,233.04 729.01,233.04 724.71,240.00" fill="none" stroke="#ff0000" stroke-width="1.1"/>
<polygon points="734.07,232.49 742.67,232.49 738.37,239.45" fill="none" stroke="#ff0000" stroke-width="1.1"/>
<polygon points="747.74,231.98 756.34,231.98 752.04,238.95" fill="none" stroke="#ff0000" stroke-width="1.1"/>
<polygon points="761.40,231.52 770.00,231.52 765.70,238.49" fill="none" stroke="#ff0000" stroke-width="1.1"/>
<polygon points="775.06,231.07 783.66,231.07 779.36,238.04" fill="none" stroke="#ff0000" stroke-width="1.1"/>
<polygon points="788.73,230.65 797.33,230.65 793.03,237.61" fill="none" stroke="#ff0000" stroke-width="1.1"/>
<polygon points="802.39,230.24 810.99,230.24 806.69,237.20" fill="none" stroke="#ff0000" stroke-width="1.1"/>
<polygon points="816.05,229.84 824.65,229.84 820.35,236.81" fill="none" stroke="#ff0000" stroke-width="1.1"/>
<path d="M572.0,29.75H614.0" stroke="#0000ff" stroke-width="1.05"/>
<circle cx="593.00" cy="29.75" r="4.0" fill="#0000ff"/>
<text transform="translate(553.20,35.55) scale(0.9569,1)" text-anchor="end" font-size="22.78">J<tspan font-size="18.18" dy="6.6">x</tspan><tspan dy="-6.6">(yr)</tspan></text>
<path d="M572.0,51.59H614.0" stroke="#0000ff" stroke-width="1.05"/>
<rect x="589.25" y="47.84" width="7.5" height="7.5" fill="#0000ff"/>
<text transform="translate(553.20,57.39) scale(0.9569,1)" text-anchor="end" font-size="22.78">J<tspan font-size="18.18" dy="6.6">y</tspan><tspan dy="-6.6">(yr)</tspan></text>
<path d="M572.0,73.43H614.0" stroke="#0000ff" stroke-width="1.05"/>
<polygon points="588.50,71.18 597.50,71.18 593.00,78.47" fill="#0000ff"/>
<text transform="translate(553.20,79.23) scale(0.9569,1)" text-anchor="end" font-size="22.78">J<tspan font-size="18.18" dy="6.6">z</tspan><tspan dy="-6.6">(yr)</tspan></text>
<path d="M572.0,95.27H614.0" stroke="#ff0000" stroke-width="1.05"/>
<circle cx="593.00" cy="95.27" r="3.8" fill="none" stroke="#ff0000" stroke-width="1.25"/>
<text transform="translate(558.40,101.07) scale(0.9569,1)" text-anchor="end" font-size="22.78">J<tspan font-size="18.18" dy="6.6">x</tspan><tspan dy="-6.6">(1st)</tspan></text>
<path d="M572.0,117.11H614.0" stroke="#ff0000" stroke-width="1.05"/>
<rect x="589.55" y="113.66" width="6.9" height="6.9" fill="none" stroke="#ff0000" stroke-width="1.2"/>
<text transform="translate(558.40,122.91) scale(0.9569,1)" text-anchor="end" font-size="22.78">J<tspan font-size="18.18" dy="6.6">y</tspan><tspan dy="-6.6">(1st)</tspan></text>
<path d="M572.0,138.95H614.0" stroke="#ff0000" stroke-width="1.05"/>
<polygon points="588.70,136.80 597.30,136.80 593.00,143.77" fill="none" stroke="#ff0000" stroke-width="1.1"/>
<text transform="translate(558.40,144.75) scale(0.9569,1)" text-anchor="end" font-size="22.78">J<tspan font-size="18.18" dy="6.6">z</tspan><tspan dy="-6.6">(1st)</tspan></text>
<rect x="485.6" y="14" width="345.0" height="245.5" fill="none" stroke="#000" stroke-width="1.4"/>
<text x="762.3" y="41.5" font-size="23.6">b)</text>
<text x="658.10" y="297.1" text-anchor="middle" font-size="22" font-style="italic">I [h]</text>
<rect x="658.35" y="282.95" width="10" height="0.9" fill="#000"/>
<g transform="rotate(-90)" font-style="italic"><text x="-184.15" y="31.20" font-size="22">((J<tspan font-size="17.6" dy="6.6">i</tspan><tspan font-size="17.6" dy="-17.6">2</tspan><tspan dy="11">)) [h</tspan><tspan font-size="17.6" dy="-11">2</tspan><tspan dy="11">]</tspan></text><rect x="-117.93" y="17.15" width="9.6" height="0.9" fill="#000"/></g>
<g transform="rotate(-90)" font-style="italic"><text x="-190.80" y="449.20" font-size="22">((J<tspan font-size="17.6" dy="6.6">i</tspan><tspan font-size="17.6" dy="-17.6">2</tspan><tspan dy="11">))</tspan><tspan font-size="17.6" dy="-11">1/2</tspan><tspan dy="11"> [h]</tspan></text><rect x="-102.09" y="435.15" width="9.6" height="0.9" fill="#000"/></g>
</svg>
</body></html>
